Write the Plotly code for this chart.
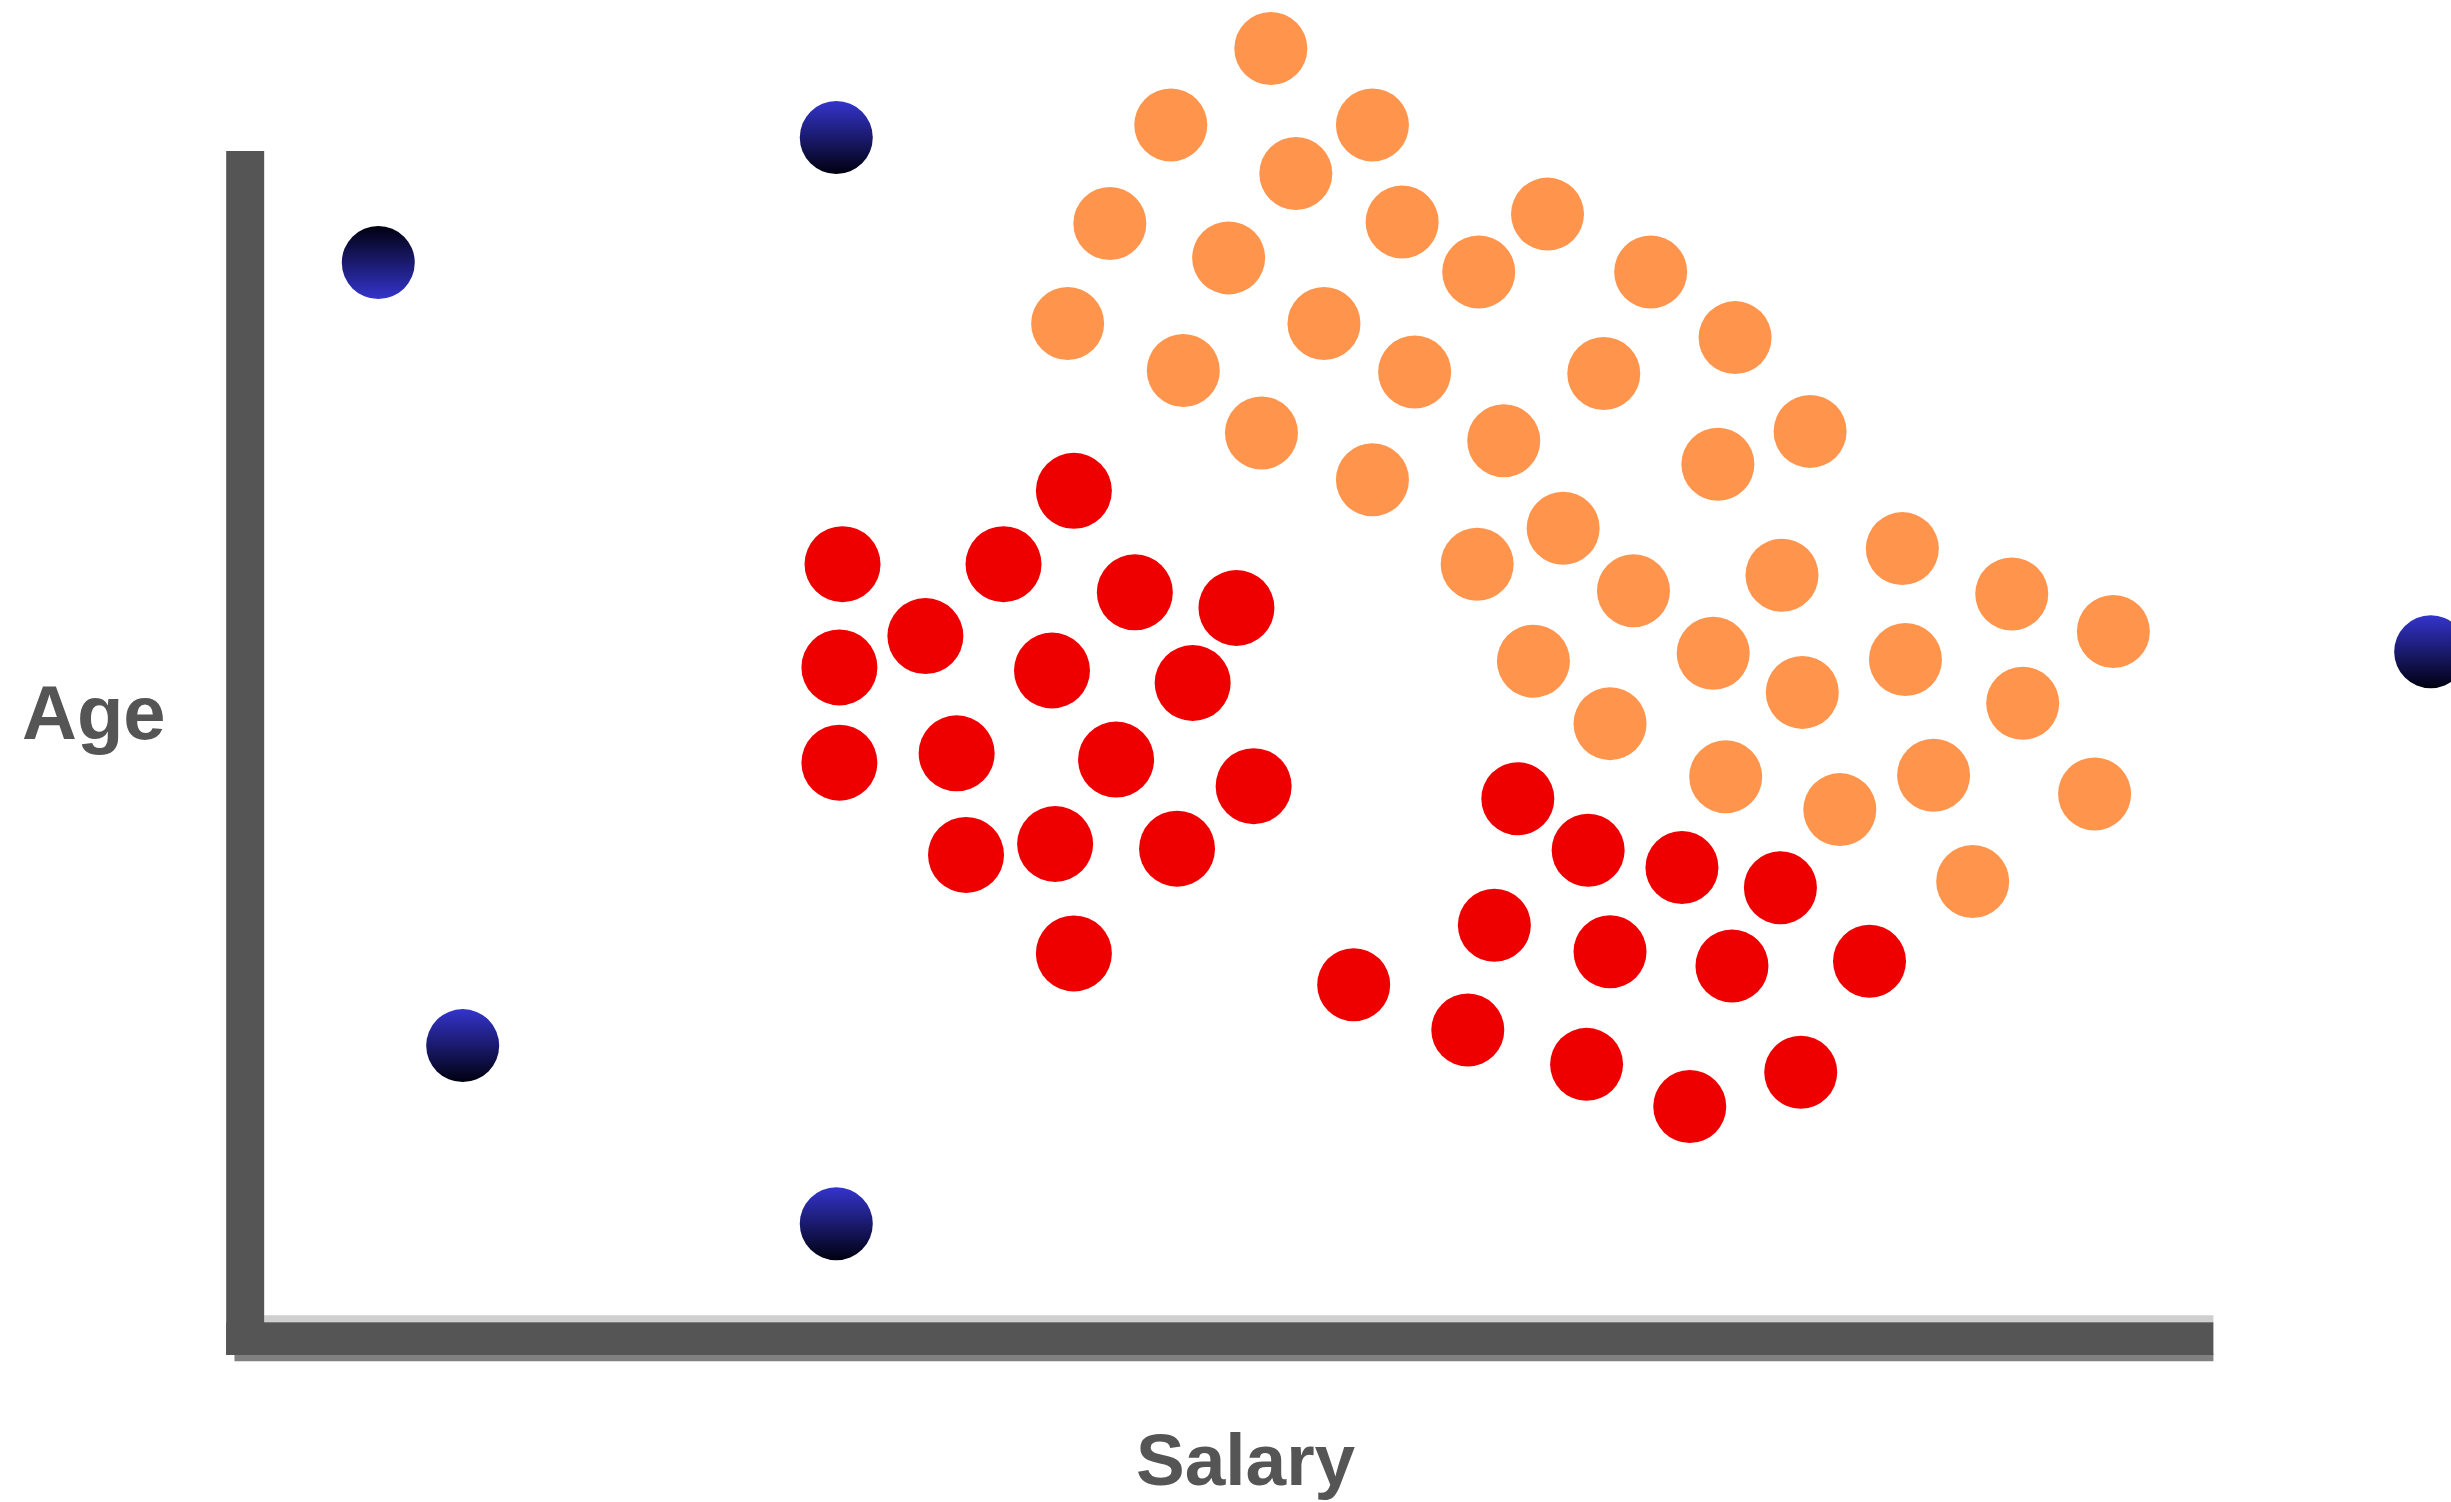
import plotly.graph_objects as go

# ---- data (Salary in k, Age in years) ----
orange_salary = [64.4, 58.0, 70.9, 66.0, 54.1, 61.7, 72.8, 82.1, 77.7, 88.7,
                 51.4, 67.8, 58.8, 73.6, 85.7, 94.1, 63.8, 70.9, 79.3, 93.0,
                 98.9, 83.1, 77.6, 87.6, 97.1, 104.8, 111.8, 118.3, 81.2, 92.7,
                 98.4, 105.0, 112.5, 86.1, 93.5, 100.8, 106.8, 117.1, 109.3]
orange_age = [81.5, 76.6, 76.6, 73.5, 70.3, 68.1, 70.4, 70.9, 67.2, 67.2,
              63.9, 63.9, 60.9, 60.8, 60.7, 63.0, 56.9, 53.9, 56.4, 54.9,
              57.0, 50.8, 48.5, 46.8, 47.8, 49.5, 46.6, 44.2, 42.3, 42.8,
              40.3, 42.4, 39.6, 38.3, 34.9, 32.8, 35.0, 33.8, 28.2]

red_left_salary = [51.8, 37.0, 47.3, 55.7, 62.2, 42.3, 36.8, 50.4, 59.4, 36.8,
                   44.3, 54.5, 63.3, 44.9, 50.6, 58.4, 51.8]
red_left_age = [53.2, 48.5, 48.5, 46.7, 45.7, 43.9, 41.9, 41.7, 40.9, 35.8,
                36.4, 36.0, 34.3, 29.9, 30.6, 30.3, 23.6]

red_right_salary = [80.2, 84.7, 90.7, 97.0, 78.7, 86.1, 93.9, 102.7, 69.7, 77.0,
                    84.6, 91.2, 98.3]
red_right_age = [33.5, 30.2, 29.1, 27.8, 25.4, 23.7, 22.8, 23.1, 21.6, 18.7,
                 16.5, 13.8, 16.0]

blue_salary = [7.3, 36.6, 12.7, 36.6, 138.6]
blue_age = [67.8, 75.8, 17.7, 6.3, 42.9]
blue_dark_top = [True, False, False, False, False]

x_label = "Salary"
y_label = "Age"

# ---- styling ----
ORANGE = "#FF944D"
RED = "#EE0000"
BLUE = "#3434CC"
NAVY = "#000010"
GRAY = "#555555"

fig = go.Figure()

fig.add_trace(go.Scatter(x=orange_salary, y=orange_age, mode="markers",
                         marker=dict(size=73, color=ORANGE, line=dict(width=0)),
                         cliponaxis=False, hoverinfo="skip"))
fig.add_trace(go.Scatter(x=red_left_salary, y=red_left_age, mode="markers",
                         marker=dict(size=76, color=RED, line=dict(width=0)),
                         cliponaxis=False, hoverinfo="skip"))
fig.add_trace(go.Scatter(x=red_right_salary, y=red_right_age, mode="markers",
                         marker=dict(size=73, color=RED, line=dict(width=0)),
                         cliponaxis=False, hoverinfo="skip"))

b_colors = [NAVY if d else BLUE for d in blue_dark_top]
g_colors = [BLUE if d else NAVY for d in blue_dark_top]
fig.add_trace(go.Scatter(x=blue_salary, y=blue_age, mode="markers",
                         marker=dict(size=73, color=b_colors, line=dict(width=0),
                                     gradient=dict(type="vertical", color=g_colors)),
                         cliponaxis=False, hoverinfo="skip"))

# axis lines drawn as thick bars
shapes = [
    # x-axis shading
    dict(type="rect", xref="x", yref="y", x0=0, x1=124.7, y0=0, y1=0.45,
         fillcolor="#cfcfcf", line=dict(width=0), layer="below"),
    dict(type="rect", xref="x", yref="y", x0=-1.9, x1=124.7, y0=-2.5, y1=-2.0,
         fillcolor="#808080", line=dict(width=0), layer="below"),
    # x-axis
    dict(type="rect", xref="x", yref="y", x0=-2.43, x1=124.7, y0=-2.09, y1=0,
         fillcolor=GRAY, line=dict(width=0), layer="below"),
    # y-axis
    dict(type="rect", xref="x", yref="y", x0=-2.43, x1=0, y0=-2.09, y1=74.94,
         fillcolor=GRAY, line=dict(width=0), layer="below"),
]

fig.update_layout(
    width=2451, height=1502, autosize=False,
    margin=dict(l=0, r=0, t=0, b=0),
    paper_bgcolor="white", plot_bgcolor="white",
    showlegend=False,
    shapes=shapes,
    xaxis=dict(range=[-16.9, 139.9], visible=False, fixedrange=True),
    yaxis=dict(range=[-11.5, 84.6], visible=False, fixedrange=True),
    annotations=[
        dict(x=-15.6, y=39.0, xref="x", yref="y", xanchor="left",
             text="<b>" + y_label + "</b>",
             showarrow=False, font=dict(family="Liberation Sans, Arial", size=76, color=GRAY)),
        dict(x=62.8, y=-8.8, xref="x", yref="y", text="<b>" + x_label + "</b>",
             showarrow=False, font=dict(family="Liberation Sans, Arial", size=73, color=GRAY)),
    ],
)

fig.write_html("out.html", config=dict(displayModeBar=False),
               post_script="document.body.style.margin='0';document.body.style.overflow='hidden';")
